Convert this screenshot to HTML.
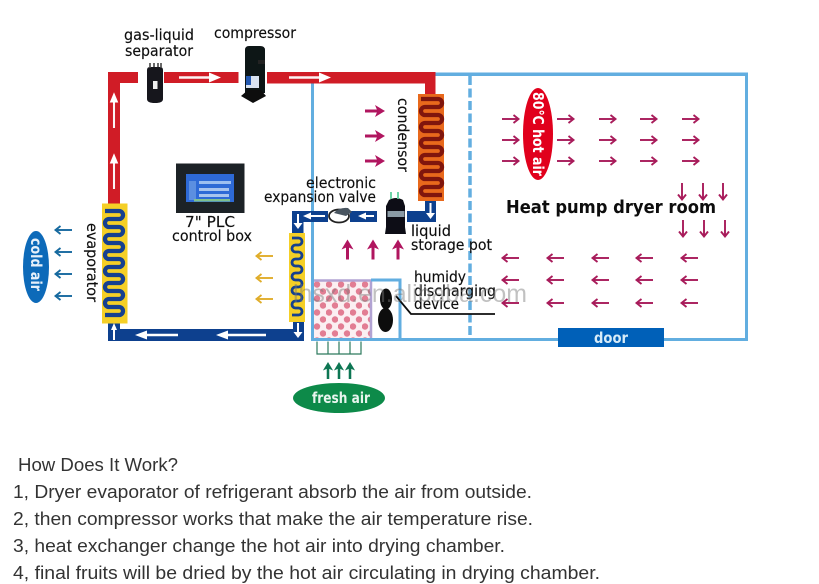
<!DOCTYPE html>
<html><head><meta charset="utf-8"><style>
html,body{margin:0;padding:0;background:#fff;width:819px;height:584px;overflow:hidden}
svg{display:block;position:absolute;left:0;top:0}
.l{font-family:"DejaVu Sans","Liberation Sans",sans-serif;font-size:15px;fill:#111;stroke:#111;stroke-width:.15px}
.w{font-family:"DejaVu Sans","Noto Sans CJK SC",sans-serif;font-size:15px;font-weight:bold}
.b{font-family:"Liberation Sans",sans-serif;font-size:18px;fill:#333}
</style></head><body>
<svg width="819" height="584" viewBox="0 0 819 584" xmlns="http://www.w3.org/2000/svg">
<defs>
<filter id="soft" x="0" y="0" width="100%" height="100%"><feGaussianBlur stdDeviation="0.35"/></filter>
<g id="a"><path d="M0 0H16" fill="none" stroke="currentColor" stroke-width="1.900"/><path d="M11.500 -4L16.500 0L11.500 4" fill="none" stroke="currentColor" stroke-width="1.900"/></g>
<g id="u"><path d="M0 0H15" fill="none" stroke="currentColor" stroke-width="3"/><path d="M10 -6L20 0L10 6L12.500 0Z" fill="currentColor"/></g>
<g id="w"><path d="M0 0H32" stroke="#fff" stroke-width="2.400" opacity=".95"/><path d="M30 -5L42 0L30 5Z" fill="#fff"/></g>
<pattern id="dots" x="314" y="281" width="12" height="14" patternUnits="userSpaceOnUse">
<rect width="12" height="14" fill="#fbeff2"/>
<circle cx="3" cy="3.500" r="3.200" fill="#e27d93"/><circle cx="9" cy="10.500" r="3.200" fill="#e27d93"/>
</pattern>
</defs>
<g filter="url(#soft)">
<!-- room frame -->
<g fill="#62aee0">
<rect x="428" y="72.500" width="320" height="3.500"/>
<rect x="745" y="73" width="3" height="268"/>
<rect x="311" y="338" width="437" height="3"/>
<rect x="311" y="82" width="3" height="259"/>
</g>
<path d="M470 76V338" stroke="#62aee0" stroke-width="3.500" stroke-dasharray="9 3.500" fill="none"/>

<!-- red pipes -->
<g fill="#d01f28">
<rect x="108" y="72" width="30" height="11"/>
<rect x="108" y="72" width="12" height="134"/>
<rect x="164" y="72" width="74.500" height="11"/>
<rect x="267" y="72" width="168" height="11.500"/>
<rect x="425" y="72" width="10.500" height="24"/>
</g>
<use href="#w" transform="translate(114,128) rotate(-90) scale(.85,.85)"/>
<use href="#w" transform="translate(114,189) rotate(-90) scale(.85,.85)"/>
<use href="#w" transform="translate(179,77.500)"/>
<use href="#w" transform="translate(289,77.500)"/>

<!-- blue pipes -->
<g fill="#0e3f8e">
<rect x="108" y="329" width="196" height="12"/>
<rect x="108" y="320" width="12" height="21"/>
<rect x="293" y="320" width="11" height="21"/>
<rect x="292" y="211" width="36" height="11"/>
<rect x="292" y="211" width="11.500" height="24"/>
<rect x="350" y="211" width="27" height="11"/>
<rect x="407" y="211" width="29" height="11"/>
<rect x="425" y="200" width="11" height="22"/>
</g>
<g stroke="#fff" stroke-width="2" fill="#fff">
<path d="M114 340V326"/><path d="M114 323l-3 7h6z" stroke="none"/>
<path d="M178 335H145" stroke-width="2.400"/><path d="M135 335l12-4.500v9z" stroke="none"/>
<path d="M266 335H228" stroke-width="2.400"/><path d="M216 335l12-4.500v9z" stroke="none"/>
<path d="M298 323V335"/><path d="M298 338l-4.500-6h9z" stroke="none"/>
<path d="M298 214V225"/><path d="M298 229l-4.500-6h9z" stroke="none"/>
<path d="M325 216H310"/><path d="M303 216l8-3.500v7z" stroke="none"/>
<path d="M374 216H365"/><path d="M358 216l8-3.500v7z" stroke="none"/>
<path d="M430.500 203V214"/><path d="M430.500 219l-4.500-6h9z" stroke="none"/>
</g>

<!-- evaporator -->
<rect x="102" y="203.500" width="25.500" height="120" fill="#f5cf26"/>
<path d="M105 211H119a4 4 0 0 1 0 8H109a4 4 0 0 0 0 8H119a4 4 0 0 1 0 8H109a4 4 0 0 0 0 8H119a4 4 0 0 1 0 8H109a4 4 0 0 0 0 8H119a4 4 0 0 1 0 8H109a4 4 0 0 0 0 8H119a4 4 0 0 1 0 8H109a4 4 0 0 0 0 8H119a4 4 0 0 1 0 8H109a4 4 0 0 0 0 8H119a4 4 0 0 1 0 8H105" fill="none" stroke="#12418f" stroke-width="4.300"/>
<!-- condenser -->
<rect x="418" y="94" width="26" height="107" fill="#e8691c"/>
<path d="M421 99H438a4 4 0 0 1 0 8H425a4 4 0 0 0 0 8H438a4 4 0 0 1 0 8H425a4 4 0 0 0 0 8H438a4 4 0 0 1 0 8H425a4 4 0 0 0 0 8H438a4 4 0 0 1 0 8H425a4 4 0 0 0 0 8H438a4 4 0 0 1 0 8H425a4 4 0 0 0 0 8H438a4 4 0 0 1 0 8H425a4 4 0 0 0 0 8H442" fill="none" stroke="#801210" stroke-width="4.300"/>
<!-- small evaporator -->
<rect x="289" y="233" width="16" height="89" fill="#f5cf26"/>
<path d="M292 238H298.500a3.500 3.500 0 0 1 0 7H295.500a3.500 3.500 0 0 0 0 7H298.500a3.500 3.500 0 0 1 0 7H295.500a3.500 3.500 0 0 0 0 7H298.500a3.500 3.500 0 0 1 0 7H295.500a3.500 3.500 0 0 0 0 7H298.500a3.500 3.500 0 0 1 0 7H295.500a3.500 3.500 0 0 0 0 7H298.500a3.500 3.500 0 0 1 0 7H295.500a3.500 3.500 0 0 0 0 7H298.500a3.500 3.500 0 0 1 0 7H292" fill="none" stroke="#12418f" stroke-width="2.800"/>

<!-- separator -->
<path d="M147 70q0-3 3-3h10q3 0 3 3v29q0 4-8 4t-8-4z" fill="#15171c"/>
<path d="M150 68v-5M154 67v-4M158 67v-4M161 68v-5" stroke="#444" stroke-width="1.600"/>
<rect x="153" y="81" width="4.500" height="8" fill="#eee"/>
<!-- compressor -->
<path d="M245 50q0-4 4-4h11q5 0 5 4v43h-20z" fill="#101216"/>
<rect x="258" y="60" width="7" height="4" fill="#222"/>
<rect x="246" y="76" width="13" height="12" fill="#d8e4f2"/><rect x="246" y="76" width="5" height="9" fill="#2458b0"/>
<path d="M241 96l7-6h13l5 6-13 7z" fill="#0b0b0b"/>

<!-- PLC -->
<rect x="176" y="163.500" width="68.500" height="49.500" fill="#1f2226"/>
<rect x="186" y="174" width="48" height="28" fill="#2f6ad6"/>
<rect x="189" y="181" width="7" height="19" fill="#5c8fe0"/>
<rect x="199" y="181" width="32" height="3" fill="#9dbff0"/>
<rect x="199" y="188" width="30" height="3" fill="#a8c4ee"/>
<rect x="199" y="194" width="30" height="3" fill="#a8c4ee"/>
<rect x="194" y="199" width="36" height="2.500" fill="#7fc08f"/>

<!-- valve -->
<ellipse cx="339" cy="216" rx="10" ry="6.500" fill="#fff" stroke="#222" stroke-width="1.800"/>
<path d="M334 213q5-6 14-5l4 4-6 4z" fill="#4a5560"/>
<!-- liquid pot -->
<path d="M389 200q7-4 14 0l2 6 0 21 1 7h-21l1-7 0-21z" fill="#101114"/>
<rect x="387.500" y="211" width="17" height="6" fill="#8a9aa5"/>
<path d="M391 192v7M398 192v7" stroke="#5fcf9f" stroke-width="1.800"/>

<!-- fresh box -->
<rect x="314" y="280" width="58" height="58" fill="url(#dots)"/>
<path d="M314 280.500H371V338" fill="none" stroke="#b2a3d3" stroke-width="2.500"/>
<path d="M371 280H400V339" fill="none" stroke="#62aee0" stroke-width="3"/>
<ellipse cx="386" cy="299" rx="6" ry="10.500" fill="#0c0c0c"/>
<ellipse cx="385.500" cy="320" rx="7.500" ry="12" fill="#0c0c0c"/>
<path d="M396 296L411 314H495" fill="none" stroke="#111" stroke-width="1.800"/>

<!-- green grid and arrows -->
<path d="M317 341.500v12.500h44v-12.500M328 341.500v12.500M339 341.500v12.500M350 341.500v12.500" fill="none" stroke="#2f7a5d" stroke-width="1.200"/>
<g color="#0e7652">
<use href="#u" transform="translate(328,379) rotate(-90) scale(.85)"/>
<use href="#u" transform="translate(339,379) rotate(-90) scale(.85)"/>
<use href="#u" transform="translate(350,379) rotate(-90) scale(.85)"/>
</g>
<ellipse cx="339" cy="398" rx="46" ry="15" fill="#0a8a4a"/>

<!-- cold air -->
<ellipse cx="36" cy="267" rx="13" ry="36" fill="#0c6ab9"/>
<g color="#17699f">
<use href="#a" transform="translate(72,230) rotate(180)"/>
<use href="#a" transform="translate(72,252) rotate(180)"/>
<use href="#a" transform="translate(72,274) rotate(180)"/>
<use href="#a" transform="translate(72,296) rotate(180)"/>
</g>
<g color="#e0ad2c">
<use href="#a" transform="translate(273,256) rotate(180)"/>
<use href="#a" transform="translate(273,278) rotate(180)"/>
<use href="#a" transform="translate(273,299) rotate(180)"/>
</g>
<!-- pink big arrows -->
<g color="#b0125f">
<use href="#u" transform="translate(365,111)"/>
<use href="#u" transform="translate(365,136)"/>
<use href="#u" transform="translate(365,161)"/>
<use href="#u" transform="translate(347.500,259.500) rotate(-90)"/>
<use href="#u" transform="translate(373,259.500) rotate(-90)"/>
<use href="#u" transform="translate(398,259.500) rotate(-90)"/>
</g>
<!-- room arrows -->
<g color="#a81a5a">
<use href="#a" transform="translate(502,119)"/><use href="#a" transform="translate(502,140)"/><use href="#a" transform="translate(502,161)"/>
<use href="#a" transform="translate(557,119)"/><use href="#a" transform="translate(557,140)"/><use href="#a" transform="translate(557,161)"/>
<use href="#a" transform="translate(599,119)"/><use href="#a" transform="translate(599,140)"/><use href="#a" transform="translate(599,161)"/>
<use href="#a" transform="translate(640,119)"/><use href="#a" transform="translate(640,140)"/><use href="#a" transform="translate(640,161)"/>
<use href="#a" transform="translate(682,119)"/><use href="#a" transform="translate(682,140)"/><use href="#a" transform="translate(682,161)"/>
<use href="#a" transform="translate(682,183) rotate(90)"/><use href="#a" transform="translate(703,183) rotate(90)"/><use href="#a" transform="translate(723,183) rotate(90)"/>
<use href="#a" transform="translate(683,220) rotate(90)"/><use href="#a" transform="translate(704,220) rotate(90)"/><use href="#a" transform="translate(725,220) rotate(90)"/>
<use href="#a" transform="translate(519,258) rotate(180)"/><use href="#a" transform="translate(519,280) rotate(180)"/><use href="#a" transform="translate(519,303) rotate(180)"/>
<use href="#a" transform="translate(564,258) rotate(180)"/><use href="#a" transform="translate(564,280) rotate(180)"/><use href="#a" transform="translate(564,303) rotate(180)"/>
<use href="#a" transform="translate(609,258) rotate(180)"/><use href="#a" transform="translate(609,280) rotate(180)"/><use href="#a" transform="translate(609,303) rotate(180)"/>
<use href="#a" transform="translate(653,258) rotate(180)"/><use href="#a" transform="translate(653,280) rotate(180)"/><use href="#a" transform="translate(653,303) rotate(180)"/>
<use href="#a" transform="translate(698,258) rotate(180)"/><use href="#a" transform="translate(698,280) rotate(180)"/><use href="#a" transform="translate(698,303) rotate(180)"/>
</g>
<ellipse cx="538" cy="134" rx="15" ry="46" fill="#e1001c"/>
<rect x="558" y="328" width="106" height="19" fill="#0561b8"/>

<!-- labels -->
<text class="l" x="124" y="40" textLength="70" lengthAdjust="spacingAndGlyphs">gas-liquid</text>
<text class="l" x="125" y="56" textLength="68" lengthAdjust="spacingAndGlyphs">separator</text>
<text class="l" x="214" y="38" textLength="82" lengthAdjust="spacingAndGlyphs">compressor</text>
<text class="l" x="306" y="188" textLength="70" lengthAdjust="spacingAndGlyphs">electronic</text>
<text class="l" x="264" y="202" textLength="112" lengthAdjust="spacingAndGlyphs">expansion valve</text>
<text class="l" x="185" y="227" textLength="50" lengthAdjust="spacingAndGlyphs">7"  PLC</text>
<text class="l" x="172" y="241" textLength="80" lengthAdjust="spacingAndGlyphs">control box</text>
<text class="l" x="411" y="236" textLength="40" lengthAdjust="spacingAndGlyphs">liquid</text>
<text class="l" x="411" y="250" textLength="81" lengthAdjust="spacingAndGlyphs">storage pot</text>
<text class="l" x="414" y="282" textLength="52" lengthAdjust="spacingAndGlyphs">humidy</text>
<text class="l" x="414" y="296" textLength="82" lengthAdjust="spacingAndGlyphs">discharging</text>
<text class="l" x="414" y="309" textLength="45" lengthAdjust="spacingAndGlyphs">device</text>
<text class="l" transform="translate(398,98) rotate(90)" textLength="74" lengthAdjust="spacingAndGlyphs">condensor</text>
<text class="l" transform="translate(87,223) rotate(90)" textLength="79" lengthAdjust="spacingAndGlyphs">evaporator</text>
<text x="506" y="213" textLength="210" lengthAdjust="spacingAndGlyphs" style="font-family:'DejaVu Sans',sans-serif;font-weight:bold;font-size:18px;fill:#0a0a0a">Heat pump dryer room</text>
<text class="w" transform="translate(31,238) rotate(90)" textLength="53" lengthAdjust="spacingAndGlyphs" fill="#e6f0fa">cold air</text>
<text class="w" transform="translate(533,92) rotate(90)" textLength="84" lengthAdjust="spacingAndGlyphs" fill="#fff">80℃ hot air</text>
<text class="w" x="312" y="403" textLength="58" lengthAdjust="spacingAndGlyphs" fill="#e8f5ee">fresh air</text>
<text class="w" x="594" y="343" textLength="34" lengthAdjust="spacingAndGlyphs" fill="#d8ecf8">door</text>

<!-- watermark -->
<text x="293" y="302" textLength="234" lengthAdjust="spacingAndGlyphs" style="font-family:'Liberation Sans',sans-serif;font-size:25px;fill:#777;opacity:.45">lhsxd.en.alibaba.com</text>
</g>
<!-- body text -->
<text class="b" x="18" y="471" textLength="160" lengthAdjust="spacingAndGlyphs">How Does It Work?</text>
<text class="b" x="13" y="498" textLength="519" lengthAdjust="spacingAndGlyphs">1, Dryer evaporator of refrigerant absorb the air from outside.</text>
<text class="b" x="13" y="525" textLength="520" lengthAdjust="spacingAndGlyphs">2, then compressor works that make the air temperature rise.</text>
<text class="b" x="13" y="552" textLength="492" lengthAdjust="spacingAndGlyphs">3, heat exchanger change the hot air into drying chamber.</text>
<text class="b" x="13" y="579" textLength="587" lengthAdjust="spacingAndGlyphs">4, final fruits will be dried by the hot air circulating in drying chamber.</text>
</svg>
</body></html>
